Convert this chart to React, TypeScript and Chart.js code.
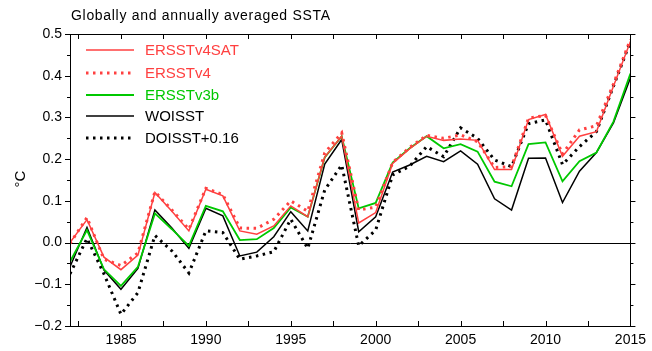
import React, { useEffect, useRef } from 'react';
import { Chart, registerables } from 'chart.js';

Chart.register(...registerables);

const years = [1982, 1983, 1984, 1985, 1986, 1987, 1988, 1989, 1990, 1991, 1992, 1993, 1994, 1995, 1996, 1997, 1998,
  1999, 2000, 2001, 2002, 2003, 2004, 2005, 2006, 2007, 2008, 2009, 2010, 2011, 2012, 2013, 2014, 2015];

const ersstv4sat = [0.0, 0.055, -0.035, -0.065, -0.03, 0.12, 0.075, 0.028, 0.128, 0.112, 0.028, 0.02, 0.04, 0.088, 0.062,
  0.205, 0.255, 0.047, 0.072, 0.19, 0.225, 0.255, 0.245, 0.248, 0.245, 0.175, 0.175, 0.295, 0.307, 0.207, 0.255, 0.266,
  0.375, 0.482];
const ersstv4 = [-0.002, 0.06, -0.04, -0.055, -0.025, 0.122, 0.078, 0.032, 0.13, 0.115, 0.035, 0.034, 0.056, 0.1, 0.075,
  0.215, 0.263, 0.078, 0.085, 0.192, 0.228, 0.257, 0.25, 0.258, 0.242, 0.18, 0.182, 0.298, 0.305, 0.212, 0.27, 0.28,
  0.38, 0.487];
const ersstv3b = [-0.046, 0.03, -0.064, -0.104, -0.058, 0.07, 0.032, -0.008, 0.088, 0.075, 0.006, 0.008, 0.035, 0.084,
  0.062, 0.204, 0.255, 0.082, 0.095, 0.192, 0.226, 0.255, 0.226, 0.236, 0.218, 0.146, 0.135, 0.236, 0.24, 0.147, 0.195,
  0.216, 0.29, 0.405];
const woisst = [-0.058, 0.036, -0.066, -0.112, -0.062, 0.078, 0.035, -0.014, 0.082, 0.064, -0.032, -0.023, 0.014, 0.074,
  0.028, 0.188, 0.247, 0.026, 0.062, 0.169, 0.186, 0.207, 0.194, 0.22, 0.188, 0.105, 0.078, 0.202, 0.203, 0.096, 0.171,
  0.216, 0.287, 0.395];
const doisst016 = [-0.075, 0.01, -0.075, -0.172, -0.12, 0.017, -0.02, -0.073, 0.028, 0.024, -0.04, -0.032, -0.022, 0.056,
  -0.014, 0.126, 0.186, -0.008, 0.03, 0.162, 0.183, 0.23, 0.206, 0.275, 0.25, 0.198, 0.182, 0.285, 0.294, 0.187, 0.23,
  0.266, 0.375, 0.482];

const seriesNames = ['ERSSTv4SAT', 'ERSSTv4', 'ERSSTv3b', 'WOISST', 'DOISST+0.16'];
const xTickLabels = [1985, 1990, 1995, 2000, 2005, 2010, 2015];
const xMinorTicks = [1982.5, 1985, 1987.5, 1990, 1992.5, 1995, 1997.5, 2000, 2002.5, 2005, 2007.5, 2010, 2012.5, 2015];
const yTickLabels = [-0.2, -0.1, 0.0, 0.1, 0.2, 0.3, 0.4, 0.5];
const yMinorTicks = [-0.15, -0.05, 0.05, 0.15, 0.25, 0.35, 0.45];
const titleText = 'Globally and annually averaged SSTA';
const yAxisTitle = '°C';

const RED = 'rgb(255,64,64)';
const GREEN = 'rgb(0,200,0)';
const BLACK = '#000';
const FONT = '"Liberation Sans", Arial, Helvetica, sans-serif';

const styles = [
  { color: RED, width: 1.5, dash: [] as number[] },
  { color: RED, width: 3, dash: [2.5, 4.5] },
  { color: GREEN, width: 1.8, dash: [] as number[] },
  { color: BLACK, width: 1.5, dash: [] as number[] },
  { color: BLACK, width: 3, dash: [2.5, 4.5] },
];
const seriesData = [ersstv4sat, ersstv4, ersstv3b, woisst, doisst016];

const decorPlugin = {
  id: 'decor',
  beforeDatasetsDraw(chart: any) {
    const { ctx, chartArea: a, scales } = chart;
    const y0 = Math.round(scales.y.getPixelForValue(0)) + 0.5;
    ctx.save();
    ctx.strokeStyle = BLACK;
    ctx.lineWidth = 1;
    ctx.beginPath();
    ctx.moveTo(a.left, y0);
    ctx.lineTo(a.right, y0);
    ctx.stroke();
    ctx.restore();
  },
  afterDraw(chart: any) {
    const { ctx, chartArea: a, scales } = chart;
    const xs = scales.x;
    const ys = scales.y;
    ctx.save();
    ctx.strokeStyle = BLACK;
    ctx.lineWidth = 1;
    ctx.strokeRect(Math.round(a.left) + 0.5, Math.round(a.top) + 0.5, Math.round(a.right - a.left), Math.round(a.bottom - a.top));
    ctx.beginPath();
    xMinorTicks.forEach((v) => {
      const px = Math.round(xs.getPixelForValue(v)) + 0.5;
      ctx.moveTo(px, a.top);
      ctx.lineTo(px, a.top + 5);
      ctx.moveTo(px, a.bottom);
      ctx.lineTo(px, a.bottom - 5);
    });
    yTickLabels.forEach((v) => {
      const py = Math.round(ys.getPixelForValue(v)) + 0.5;
      ctx.moveTo(a.left, py);
      ctx.lineTo(a.left - 5, py);
      ctx.moveTo(a.right, py);
      ctx.lineTo(a.right + 5, py);
    });
    yMinorTicks.forEach((v) => {
      const py = Math.round(ys.getPixelForValue(v)) + 0.5;
      ctx.moveTo(a.left, py);
      ctx.lineTo(a.left - 3, py);
      ctx.moveTo(a.right, py);
      ctx.lineTo(a.right + 3, py);
    });
    ctx.stroke();

    // legend
    const rows = [50, 73, 95, 116, 138];
    seriesNames.forEach((name, i) => {
      const st = styles[i];
      const ry = rows[i];
      ctx.save();
      ctx.strokeStyle = st.color;
      ctx.lineWidth = st.width;
      ctx.setLineDash(st.dash);
      ctx.beginPath();
      ctx.moveTo(86, ry);
      ctx.lineTo(134, ry);
      ctx.stroke();
      ctx.restore();
      ctx.fillStyle = st.color;
      ctx.font = `15px ${FONT}`;
      ctx.textAlign = 'left';
      ctx.textBaseline = 'middle';
      ctx.fillText(name, 145, ry + 1);
    });

    // title
    ctx.fillStyle = BLACK;
    ctx.font = `14px ${FONT}`;
    ctx.textAlign = 'left';
    ctx.textBaseline = 'middle';
    const w = ctx.measureText(titleText).width;
    const sp = Math.max(0, (259 - w) / (titleText.length - 1));
    (ctx as any).letterSpacing = `${sp.toFixed(2)}px`;
    ctx.fillText(titleText, 71, 16);
    (ctx as any).letterSpacing = '0px';

    // y axis title
    ctx.save();
    ctx.translate(21, 179);
    ctx.rotate(-Math.PI / 2);
    ctx.font = `15px ${FONT}`;
    ctx.textAlign = 'center';
    ctx.textBaseline = 'middle';
    ctx.fillText(yAxisTitle, 0, 0);
    ctx.restore();
    ctx.restore();
  },
};

export default function App() {
  const ref = useRef<HTMLCanvasElement | null>(null);
  useEffect(() => {
    if (!ref.current) return;
    const chart = new Chart(ref.current, {
      type: 'line',
      data: {
        datasets: seriesNames.map((name, i) => ({
          label: name,
          data: years.map((yr, j) => ({ x: yr, y: seriesData[i][j] })),
          borderColor: styles[i].color,
          borderWidth: styles[i].width,
          borderDash: styles[i].dash,
          pointRadius: 0,
          tension: 0,
          fill: false,
        })),
      },
      options: {
        responsive: false,
        animation: false,
        layout: { padding: { left: 0, top: 34, right: 16, bottom: 0 } },
        plugins: { legend: { display: false }, tooltip: { enabled: false }, title: { display: false } },
        scales: {
          x: {
            type: 'linear',
            min: 1982,
            max: 2015,
            grid: { display: false, drawTicks: false },
            border: { display: false },
            afterBuildTicks: (s: any) => {
              s.ticks = xTickLabels.map((v) => ({ value: v }));
            },
            afterFit: (s: any) => {
              s.height = 25;
            },
            ticks: {
              autoSkip: false,
              maxRotation: 0,
              padding: 6,
              color: BLACK,
              font: { family: FONT, size: 14 },
              callback: (v: any) => String(v),
            },
          },
          y: {
            type: 'linear',
            min: -0.2,
            max: 0.5,
            grid: { display: false, drawTicks: false },
            border: { display: false },
            afterBuildTicks: (s: any) => {
              s.ticks = yTickLabels.map((v) => ({ value: v }));
            },
            afterFit: (s: any) => {
              s.width = 70;
            },
            ticks: {
              padding: 8,
              color: BLACK,
              font: { family: FONT, size: 14 },
              callback: (v: any) => {
                const n = Number(v);
                const t = Math.abs(n).toFixed(1);
                return n < -1e-9 ? '\u2212' + t : t;
              },
            },
          },
        },
      },
      plugins: [decorPlugin],
    });
    return () => chart.destroy();
  }, []);
  return (
    <div style={{ position: 'fixed', left: 0, top: 0, width: 652, height: 351, background: '#fff' }}>
      <canvas ref={ref} width={652} height={351} style={{ display: 'block' }} />
    </div>
  );
}
